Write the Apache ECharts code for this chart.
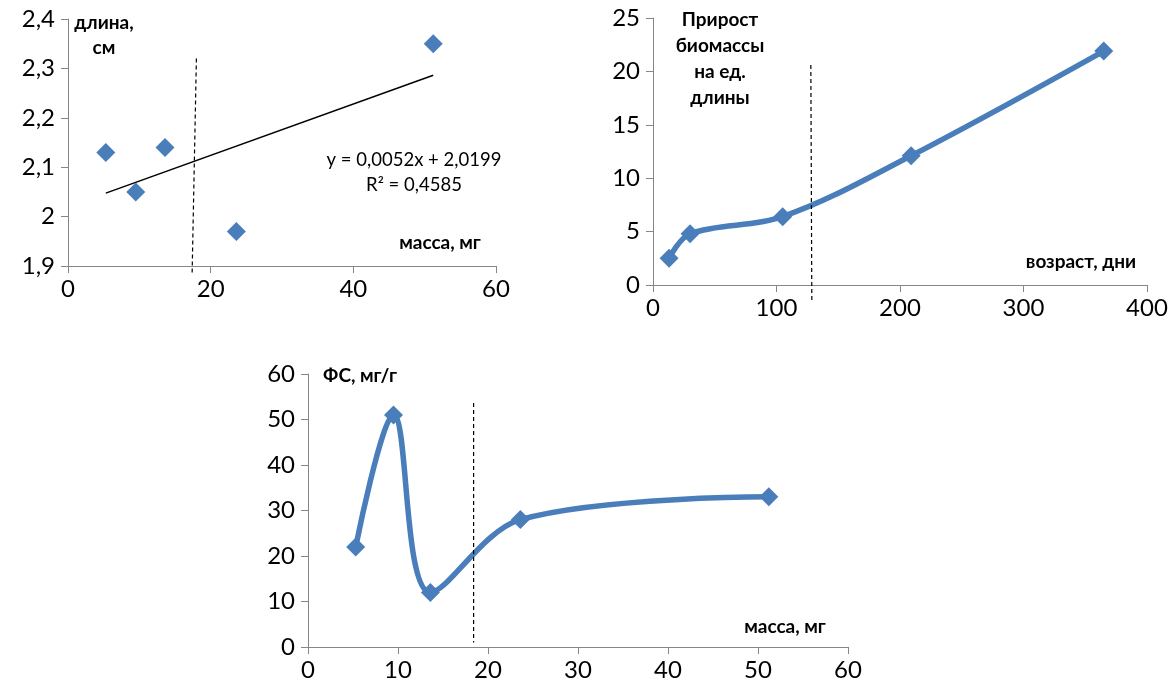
<!DOCTYPE html>
<html><head><meta charset="utf-8">
<script src="https://cdn.jsdelivr.net/npm/echarts@6/dist/echarts.min.js"></script>
<style>html,body{margin:0;padding:0;background:#fff}#c{width:1176px;height:695px}</style>
</head><body><div id="c"></div><script>
// ---- data ----
const mass = [5.3, 9.5, 13.6, 23.6, 51.2];            // масса, мг
const lengthCm = [2.13, 2.05, 2.14, 1.97, 2.35];      // длина, см
const trendSlope = 0.0052, trendIntercept = 2.0199, trendR2 = 0.4585;
const ageDays = [13, 30, 105, 209, 365];              // возраст, дни
const growthPerLength = [2.5, 4.8, 6.4, 12.1, 21.9];  // прирост биомассы на ед. длины
const fsMass = [5.3, 9.5, 13.6, 23.6, 51.2];
const fsValues = [22, 51, 12, 28, 33];                // ФС, мг/г
const divider1 = [[18.0, 2.32], [17.4, 1.885]];
const divider2 = [[127.8, 20.6], [128.6, -1.4]];
const divider3 = [[18.4, 53.6], [18.4, 1.0]];

const BLUE = '#4a7ebb';
const AX = '#868686';
const FONT = 'Lato';

function comma(v){ return String(v).replace('.', ','); }

function xAx(grid, min, max, interval){
  return {type:'value', gridIndex:grid, min, max, interval,
    axisLine:{show:true, onZero:false, lineStyle:{color:AX, width:1}},
    axisTick:{show:true, length:7, lineStyle:{color:AX}},
    splitLine:{show:false},
    axisLabel:{color:'#000', fontFamily:FONT, fontSize:24, margin:11}};
}
function yAx(grid, min, max, interval, fmt){
  return {type:'value', gridIndex:grid, min, max, interval,
    axisLine:{show:true, onZero:false, lineStyle:{color:AX, width:1}},
    axisTick:{show:true, length:7, lineStyle:{color:AX}},
    splitLine:{show:false},
    axisLabel:{color:'#000', fontFamily:FONT, fontSize:24, margin:13, formatter:fmt}};
}

const scatterData = mass.map((m,i)=>[m, lengthCm[i]]);
const xMin = Math.min(...mass), xMax = Math.max(...mass);
const trend = [[xMin, trendIntercept + trendSlope*xMin],[xMax, trendIntercept + trendSlope*xMax]];

const dashStyle = {color:'#000', width:1.2, type:[4,3]};
const BOLD = 'bold 19px ' + FONT;

function label(x, y, text, font, lh){
  return {type:'text', x:x, y:y, style:{text:text, font:font, fill:'#000', align:'center', verticalAlign:'middle', lineHeight:lh||24}};
}

const option = {
  animation:false,
  backgroundColor:'#fff',
  grid:[
    {left:68, top:19, width:428, height:247},
    {left:653, top:18, width:494, height:267},
    {left:308, top:374, width:540, height:273}
  ],
  xAxis:[ xAx(0,0,60,20), xAx(1,0,400,100), xAx(2,0,60,10) ],
  yAxis:[ yAx(0,1.9,2.4,0.1, v=>String(+v.toFixed(2)).replace('.', ',')), yAx(1,0,25,5), yAx(2,0,60,10) ],
  series:[
    {type:'line', xAxisIndex:0, yAxisIndex:0, data:trend, symbol:'none',
     lineStyle:{color:'#000', width:1.5}, z:2},
    {type:'scatter', xAxisIndex:0, yAxisIndex:0, data:scatterData, symbol:'diamond',
     symbolSize:19, itemStyle:{color:BLUE, opacity:1}, z:3},
    {type:'line', xAxisIndex:0, yAxisIndex:0, data:divider1, symbol:'none', clip:false,
     lineStyle:dashStyle},
    {type:'line', xAxisIndex:1, yAxisIndex:1, data:ageDays.map((a,i)=>[a, growthPerLength[i]]),
     smooth:0.35, symbol:'diamond', symbolSize:19, showAllSymbol:true,
     lineStyle:{color:BLUE, width:5.5}, itemStyle:{color:BLUE}, z:3},
    {type:'line', xAxisIndex:1, yAxisIndex:1, data:divider2, symbol:'none', clip:false,
     lineStyle:dashStyle},
    {type:'line', xAxisIndex:2, yAxisIndex:2, data:fsMass.map((m,i)=>[m, fsValues[i]]),
     smooth:0.35, symbol:'diamond', symbolSize:19, showAllSymbol:true,
     lineStyle:{color:BLUE, width:5.5}, itemStyle:{color:BLUE}, z:3},
    {type:'line', xAxisIndex:2, yAxisIndex:2, data:divider3, symbol:'none', clip:false,
     lineStyle:dashStyle}
  ],
  graphic:[
    label(104, 35, 'длина,\nсм', BOLD, 25),
    label(440, 243, 'масса, мг', BOLD),
    label(414, 173, 'y = ' + comma(trendSlope) + 'x + ' + comma(trendIntercept) + '\nR² = ' + comma(trendR2), '18.5px ' + FONT, 25),
    label(720, 59, 'Прирост\nбиомассы\nна ед.\nдлины', BOLD, 26),
    label(1081, 262, 'возраст, дни', BOLD),
    label(360, 376, 'ФС, мг/г', BOLD),
    label(785, 627, 'масса, мг', BOLD)
  ]
};
const chart = echarts.init(document.getElementById('c'), null, {renderer:'canvas'});
chart.setOption(option);
</script></body></html>
